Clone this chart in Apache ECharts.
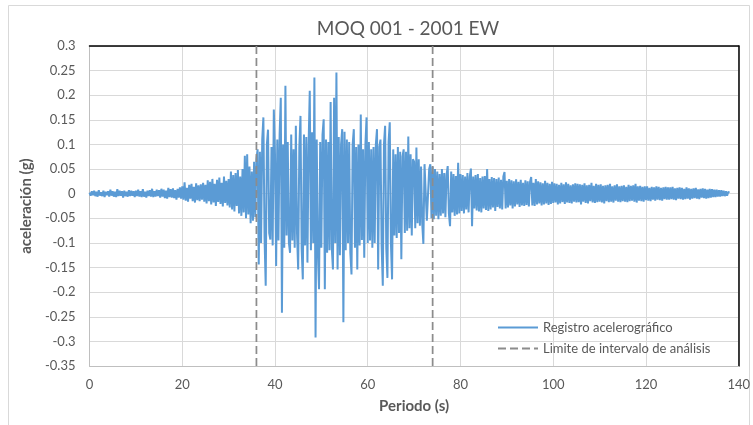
<!DOCTYPE html>
<html>
<head>
<meta charset="utf-8">
<title>MOQ 001 - 2001 EW</title>
<script src="https://cdn.jsdelivr.net/npm/echarts@6/dist/echarts.min.js"></script>
<style>
  html, body { margin: 0; padding: 0; background: #ffffff; }
  #chart { width: 753px; height: 425px; }
</style>
</head>
<body>
<div id="chart"></div>
<script>
// Acelerograma MOQ 001 (2001), componente EW
const chartTitle = 'MOQ 001 - 2001 EW';
const xAxisName = 'Periodo (s)';
const yAxisName = 'aceleración (g)';
const seriesName = 'Registro acelerográfico';
const limitName = 'Limite de intervalo de análisis';

// muestreo del registro (s)
const timeStep = 0.25;

// aceleración (g), una fila = 5 s
const accel = [
  0.002,-0.004,0.005,-0.003,0.006,-0.005,0.004,-0.006,0.007,-0.004,0.003,-0.005,0.006,-0.007,0.004,-0.003,0.005,-0.006,0.008,-0.004,
  0.005,-0.006,0.004,-0.007,0.009,-0.005,0.006,-0.004,0.005,-0.008,0.006,-0.005,0.004,-0.006,0.007,-0.005,0.006,-0.004,0.005,-0.007,
  0.006,-0.005,0.008,-0.006,0.005,-0.007,0.009,-0.006,0.004,-0.008,0.006,-0.005,0.007,-0.006,0.010,-0.007,0.005,-0.006,0.008,-0.005,
  0.007,-0.008,0.010,-0.006,0.008,-0.009,0.006,-0.010,0.012,-0.007,0.009,-0.008,0.011,-0.009,0.007,-0.012,0.010,-0.008,0.013,-0.010,
  0.015,-0.012,0.023,-0.014,0.012,-0.016,0.018,-0.010,0.020,-0.015,0.014,-0.018,0.021,-0.013,0.017,-0.015,0.019,-0.012,0.022,-0.016,
  0.018,-0.020,0.027,-0.015,0.024,-0.022,0.030,-0.018,0.020,-0.025,0.028,-0.017,0.033,-0.021,0.022,-0.026,0.035,-0.019,0.026,-0.024,
  0.030,-0.028,0.045,-0.032,0.038,-0.036,0.042,-0.025,0.048,-0.040,0.035,-0.045,0.050,-0.038,0.077,-0.050,0.080,-0.042,0.055,-0.060,
  0.045,-0.055,0.065,-0.048,0.070,0.090,-0.144,0.085,-0.100,0.110,0.155,-0.090,-0.187,0.100,0.130,-0.080,-0.093,0.095,-0.105,0.171,
  0.080,-0.147,0.110,-0.095,0.120,0.195,-0.242,0.100,-0.110,0.219,-0.085,0.105,-0.100,-0.120,0.120,-0.095,0.090,-0.110,0.138,-0.080,
  -0.154,0.095,0.158,-0.110,-0.174,0.120,-0.105,0.115,-0.140,0.100,0.209,-0.115,0.125,-0.100,0.236,-0.292,0.110,-0.120,-0.194,0.105,
  -0.110,0.120,0.151,-0.194,0.110,-0.120,0.105,-0.115,0.186,-0.110,-0.154,0.195,-0.100,0.246,-0.154,0.115,-0.125,0.100,0.131,-0.261,
  0.126,-0.115,0.110,-0.100,0.105,-0.120,-0.164,0.100,0.131,-0.110,0.095,-0.154,0.100,-0.105,0.161,-0.094,0.090,-0.130,0.100,0.155,
  -0.100,0.105,-0.095,0.090,-0.110,0.095,-0.100,0.100,0.131,-0.154,0.095,0.110,-0.105,-0.187,0.100,0.138,-0.110,-0.171,0.105,0.145,
  -0.100,-0.174,0.090,-0.085,0.080,-0.090,0.095,-0.080,0.085,-0.133,0.075,0.090,-0.080,0.085,-0.075,0.116,-0.070,0.080,-0.085,0.070,
  0.065,-0.070,0.094,-0.060,0.070,-0.065,0.055,-0.060,-0.102,0.060,0.060,-0.055,-0.058,0.050,0.060,-0.050,0.055,-0.052,0.050,-0.045,
  0.045,-0.052,0.040,-0.045,0.050,-0.040,0.042,-0.048,0.038,0.056,-0.040,-0.066,0.045,-0.038,0.040,-0.045,0.036,-0.042,0.063,-0.040,
  0.040,-0.035,0.038,-0.040,0.035,-0.032,0.042,-0.038,0.034,0.051,-0.066,0.035,-0.030,0.038,-0.034,0.040,-0.036,0.032,-0.038,0.035,
  -0.030,0.036,-0.033,0.050,-0.035,0.030,-0.032,0.034,-0.028,0.032,-0.035,0.030,-0.027,0.033,-0.030,0.028,-0.032,0.035,0.044,-0.030,
  0.026,-0.028,0.030,-0.024,0.027,-0.030,0.025,-0.026,0.029,-0.022,0.024,-0.027,0.028,-0.024,0.022,-0.025,0.027,-0.023,0.025,-0.026,
  0.024,0.034,-0.024,0.022,-0.025,0.030,-0.022,0.025,-0.020,0.023,-0.024,0.021,-0.022,0.026,-0.020,0.022,-0.023,0.020,-0.021,0.024,
  -0.019,0.021,-0.018,0.020,-0.022,0.018,-0.020,0.022,-0.017,0.019,-0.021,0.023,-0.018,0.020,-0.019,0.017,-0.020,0.019,-0.016,0.021,
  -0.018,0.020,-0.017,0.019,-0.022,0.018,-0.016,0.021,-0.019,0.017,-0.020,0.018,-0.015,0.022,-0.018,0.016,-0.019,0.020,-0.017,0.018,
  -0.016,0.019,-0.018,0.016,-0.020,0.017,-0.015,0.018,-0.017,0.020,-0.016,0.015,-0.018,0.017,-0.014,0.019,-0.016,0.015,-0.017,0.016,
  -0.015,0.017,-0.016,0.014,-0.017,0.018,-0.015,0.016,-0.014,0.017,-0.016,0.020,-0.018,0.015,-0.014,0.016,-0.015,0.014,-0.016,0.015,
  -0.013,0.015,-0.014,0.012,-0.015,0.014,-0.012,0.013,-0.014,0.015,-0.012,0.014,-0.013,0.012,-0.014,0.013,-0.011,0.014,-0.012,0.013,
  -0.012,0.013,-0.011,0.014,-0.012,0.011,-0.013,0.012,-0.010,0.013,-0.011,0.012,-0.012,0.010,-0.011,0.013,-0.010,0.011,-0.012,0.010,
  -0.010,0.011,-0.009,0.012,-0.010,0.009,-0.011,0.010,-0.008,0.011,-0.009,0.010,-0.010,0.008,-0.009,0.010,-0.008,0.009,-0.007,0.008,
  -0.007,0.008,-0.006,0.007,-0.006,0.007,-0.005,0.006,-0.005,0.005,-0.004,0.004,0.002
];

// límites del intervalo de análisis (s)
const limits = [36, 74];

// escalas de los ejes
const xRange = [0, 140];
const xStep = 20;
const yRange = [-0.35, 0.3];
const yStep = 0.05;

const FONT = 'Lato, "Liberation Sans", sans-serif';
const TEXT = '#595959';
const GRID_LINE = '#d9d9d9';
const BLUE = '#5b9bd5';
const DASH_GRAY = '#8c8c8c';

const signal = accel.map((v, i) => [+(i * timeStep).toFixed(2), v]);

const limitSeries = limits.map(t => ({
  name: limitName,
  type: 'line',
  xAxisIndex: 0,
  yAxisIndex: 0,
  symbol: 'none',
  silent: true,
  z: 3,
  color: DASH_GRAY,
  lineStyle: { color: DASH_GRAY, width: 1.75, type: [8, 4] },
  data: [[t, yRange[1]], [t, yRange[0]]]
}));

const chart = echarts.init(document.getElementById('chart'), null, { renderer: 'canvas' });

chart.setOption({
  animation: false,
  backgroundColor: '#ffffff',
  title: {
    text: chartTitle,
    left: 403,
    top: 14,
    textAlign: 'center',
    textStyle: { fontFamily: FONT, fontSize: 19, fontWeight: 'normal', color: TEXT }
  },
  graphic: [{
    type: 'rect',
    shape: { x: 8.5, y: 5.5, width: 741, height: 425 },
    style: { fill: null, stroke: '#d9d9d9', lineWidth: 1 },
    silent: true,
    z: -1
  }],
  grid: { left: 89.5, right: 11, top: 46, bottom: 59, containLabel: false },
  legend: {
    orient: 'vertical',
    left: 497,
    top: 321,
    padding: 0,
    itemWidth: 40,
    itemHeight: 14,
    itemGap: 8,
    itemStyle: { opacity: 0, borderWidth: 0 },
    data: [seriesName, limitName],
    textStyle: { fontFamily: FONT, fontSize: 13, color: TEXT }
  },
  xAxis: [{
    type: 'value',
    min: xRange[0],
    max: xRange[1],
    interval: xStep,
    name: xAxisName,
    nameLocation: 'middle',
    nameGap: 33,
    nameTextStyle: { fontFamily: FONT, fontSize: 15, fontWeight: 'bold', color: TEXT },
    axisLine: { show: true, onZero: false, lineStyle: { color: '#bfbfbf', width: 1 } },
    axisTick: { show: false },
    axisLabel: { margin: 12, fontFamily: FONT, fontSize: 13, color: TEXT },
    splitLine: { show: true, lineStyle: { color: GRID_LINE, width: 1 } }
  }, {
    type: 'value',
    position: 'top',
    min: xRange[0],
    max: xRange[1],
    interval: xStep,
    axisLine: { show: true, onZero: false, lineStyle: { color: '#000000', width: 1.5 } },
    axisTick: { show: false },
    axisLabel: { show: false },
    splitLine: { show: false }
  }],
  yAxis: [{
    type: 'value',
    min: yRange[0],
    max: yRange[1],
    interval: yStep,
    name: yAxisName,
    nameLocation: 'middle',
    nameGap: 44,
    nameTextStyle: { fontFamily: FONT, fontSize: 15, fontWeight: 'bold', color: TEXT },
    axisLine: { show: true, onZero: false, lineStyle: { color: '#bfbfbf', width: 1 } },
    axisTick: { show: false },
    axisLabel: {
      margin: 14,
      fontFamily: FONT,
      fontSize: 13,
      color: TEXT,
      formatter: v => String(+(+v).toFixed(2))
    },
    splitLine: { show: true, lineStyle: { color: GRID_LINE, width: 1 } }
  }, {
    type: 'value',
    position: 'right',
    min: yRange[0],
    max: yRange[1],
    interval: yStep,
    axisLine: { show: true, onZero: false, lineStyle: { color: '#000000', width: 1.5 } },
    axisTick: { show: false },
    axisLabel: { show: false },
    splitLine: { show: false }
  }],
  series: [{
    name: seriesName,
    type: 'line',
    xAxisIndex: 0,
    yAxisIndex: 0,
    symbol: 'none',
    showSymbol: false,
    z: 2,
    color: BLUE,
    lineStyle: { color: BLUE, width: 2 },
    data: signal
  }].concat(limitSeries)
});
</script>
</body>
</html>
